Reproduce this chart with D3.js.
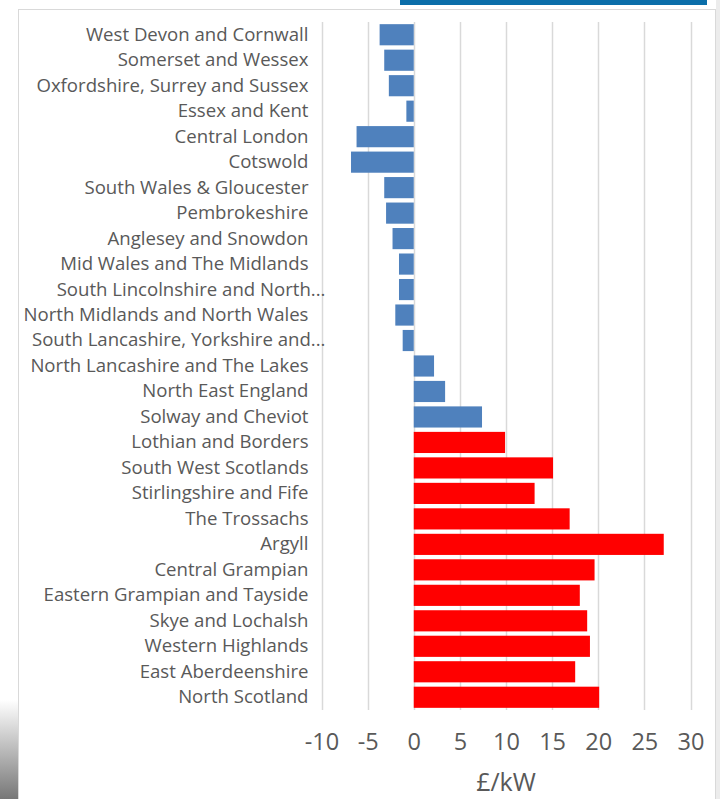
<!DOCTYPE html>
<html>
<head>
<meta charset="utf-8">
<script src="https://cdn.jsdelivr.net/npm/d3@7"></script>
<style>
  body { margin: 0; background: #fff; }
  svg { display: block; }
  svg text { font-family: "Open Sans", sans-serif; }
</style>
</head>
<body>
<svg id="chart" width="720" height="799"></svg>
<script>
// zones, top to bottom
const zones = [
  'West Devon and Cornwall', 'Somerset and Wessex', 'Oxfordshire, Surrey and Sussex',
  'Essex and Kent', 'Central London', 'Cotswold', 'South Wales & Gloucester',
  'Pembrokeshire', 'Anglesey and Snowdon', 'Mid Wales and The Midlands',
  'South Lincolnshire and North...', 'North Midlands and North Wales',
  'South Lancashire, Yorkshire and...', 'North Lancashire and The Lakes',
  'North East England', 'Solway and Cheviot', 'Lothian and Borders',
  'South West Scotlands', 'Stirlingshire and Fife', 'The Trossachs', 'Argyll',
  'Central Grampian', 'Eastern Grampian and Tayside', 'Skye and Lochalsh',
  'Western Highlands', 'East Aberdeenshire', 'North Scotland'
]
const tariff = [
  -3.7, -3.2, -2.7, -0.8, -6.2, -6.8, -3.2, -3.0, -2.3, -1.6, -1.6, -2.0, -1.2,
  2.2, 3.4, 7.4, 9.9, 15.1, 13.1, 16.9, 27.1, 19.6, 18.0, 18.8, 19.1, 17.5, 20.1
]
// Scottish zones drawn in red
const scottish = [
  'Lothian and Borders', 'South West Scotlands', 'Stirlingshire and Fife', 'The Trossachs',
  'Argyll', 'Central Grampian', 'Eastern Grampian and Tayside', 'Skye and Lochalsh',
  'Western Highlands', 'East Aberdeenshire', 'North Scotland'
]
const xTicks = [-10, -5, 0, 5, 10, 15, 20, 25, 30]

const data = zones.map((z, i) => ({ zone: z, value: tariff[i] }))

const svg = d3.select('#chart')
const textColor = '#595959'

// slide decoration: header strip, frame, edge shading
const defs = svg.append('defs')
const shade = defs.append('linearGradient').attr('id', 'shade')
  .attr('x1', 0).attr('y1', 0).attr('x2', 0).attr('y2', 1)
shade.append('stop').attr('offset', 0).attr('stop-color', '#fff')
shade.append('stop').attr('offset', 1).attr('stop-color', '#777')
svg.append('rect').attr('x', 0).attr('y', 700).attr('width', 18).attr('height', 99).attr('fill', 'url(#shade)')
svg.append('rect').attr('x', 716).attr('y', 0).attr('width', 4).attr('height', 799).attr('fill', '#ececec')
svg.append('rect').attr('x', 400).attr('y', 0).attr('width', 307).attr('height', 5).attr('fill', '#0b6ea9')
svg.append('rect').attr('x', 18.5).attr('y', 9.5).attr('width', 697).attr('height', 800)
  .attr('fill', 'none').attr('stroke', '#d9d9d9')

const x = d3.scaleLinear().domain([-10, 30]).range([321.5, 690.5])
const y = d3.scaleBand().domain(zones).range([22, 710]).paddingInner(0.17).paddingOuter(0.085)

// gridlines
svg.append('g')
  .selectAll('line')
  .data(xTicks)
  .join('line')
  .attr('x1', d => Math.round(x(d)) + 0.5)
  .attr('x2', d => Math.round(x(d)) + 0.5)
  .attr('y1', 22)
  .attr('y2', 710)
  .attr('stroke', '#d9d9d9')
  .attr('stroke-width', 1.5)

// bars
svg.append('g')
  .selectAll('rect')
  .data(data)
  .join('rect')
  .attr('x', d => x(Math.min(0, d.value)))
  .attr('y', d => y(d.zone))
  .attr('width', d => Math.abs(x(d.value) - x(0)))
  .attr('height', y.bandwidth())
  .attr('fill', d => scottish.includes(d.zone) ? '#ff0000' : '#4f81bd')

// category labels (truncated ones spill past the label edge, like Excel)
const yAxis = svg.append('g')
  .attr('transform', 'translate(' + x(-10) + ',0)')
  .call(d3.axisLeft(y).tickSize(0).tickPadding(13))
yAxis.select('.domain').remove()
yAxis.selectAll('text')
  .attr('fill', textColor)
  .attr('dx', d => d.endsWith('...') ? 17 : 0)
  .style('font-size', '18.6px')

// value axis
const xAxis = svg.append('g')
  .attr('transform', 'translate(0,733)')
  .call(d3.axisBottom(x).tickValues(xTicks).tickSize(0).tickPadding(0).tickFormat(d => String(d)))
xAxis.select('.domain').remove()
xAxis.selectAll('text')
  .attr('fill', textColor)
  .attr('dy', '0.71em')
  .style('font-size', '23.5px')

svg.append('text')
  .attr('x', x(10))
  .attr('y', 791)
  .attr('text-anchor', 'middle')
  .attr('fill', textColor)
  .style('font-size', '25px')
  .text('£/kW')
</script>
</body>
</html>
